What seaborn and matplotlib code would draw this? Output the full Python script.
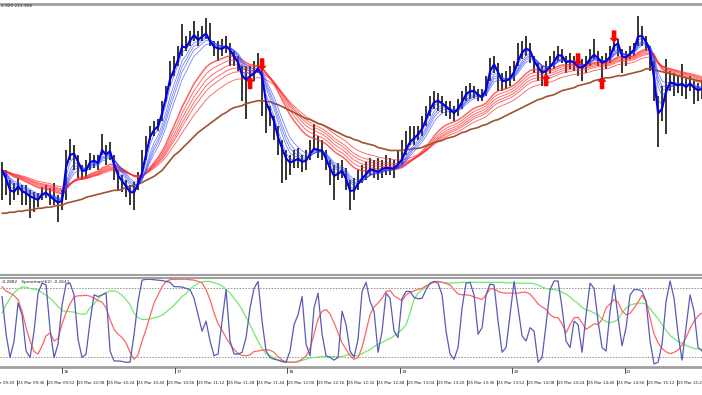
import numpy as np
import pandas as pd
import matplotlib
matplotlib.use("Agg")
import matplotlib.pyplot as plt
import seaborn as sns

# price bars, in points above an arbitrary base level (one value per plotted bar)
bar_close = [130, 120, 108, 108, 115, 108, 107, 103, 102, 100, 107, 108, 103, 100, 97, 100, 140, 148, 147, 137,
             128, 130, 140, 140, 137, 153, 145, 150, 133, 123, 118, 113, 107, 108, 118, 130, 150, 167, 172, 175,
             190, 207, 225, 233, 243, 257, 253, 262, 267, 260, 265, 268, 258, 253, 252, 252, 255, 250,
             243, 237, 223, 220, 225, 228, 233, 223, 193, 187, 177, 160, 150, 140, 137, 140, 142, 138, 140, 148,
             153, 150, 150, 140, 130, 123, 127, 130, 120, 107, 110, 118, 123, 127, 132, 130, 128, 132, 133, 132,
             132, 137, 142, 153, 160, 163, 167, 173, 183, 193, 200, 200, 197, 193, 190, 187, 193, 200, 208,
             210, 210, 205, 203, 213, 233, 238, 227, 218, 220, 223, 230, 242, 250, 253, 250, 238, 232, 227, 230,
             235, 240, 247, 245, 237, 240, 238, 233, 233, 237, 243, 247, 242, 237, 240, 245, 257, 258, 242, 243,
             248, 252, 267, 265, 258, 247, 217, 180, 193, 213, 220, 217, 215, 217, 213, 218, 212, 210, 212]
bar_high = [138, 130, 120, 117, 122, 115, 115, 110, 108, 107, 113, 115, 112, 117, 105, 110, 150, 162, 155, 145,
            135, 140, 147, 145, 145, 167, 155, 158, 145, 130, 125, 120, 115, 118, 128, 150, 165, 175, 180, 182,
            200, 215, 240, 245, 255, 277, 265, 270, 280, 270, 275, 283, 278, 260, 260, 262, 265, 258,
            250, 245, 235, 235, 235, 240, 248, 240, 200, 195, 185, 175, 160, 150, 145, 150, 152, 145, 150, 160,
            177, 165, 160, 150, 140, 135, 137, 140, 132, 120, 122, 130, 135, 138, 142, 140, 142, 140, 145, 142,
            140, 150, 160, 170, 175, 175, 175, 185, 195, 205, 210, 208, 205, 200, 200, 195, 202, 210, 215,
            218, 215, 212, 212, 225, 243, 245, 238, 228, 230, 235, 240, 258, 260, 265, 258, 245, 238, 235, 240,
            245, 250, 255, 252, 245, 248, 245, 242, 242, 245, 252, 262, 250, 245, 248, 255, 267, 262, 252, 250,
            255, 258, 285, 275, 265, 255, 240, 205, 215, 242, 230, 228, 225, 237, 222, 225, 220, 218, 220]
bar_low = [100, 105, 95, 100, 105, 95, 95, 82, 88, 93, 100, 102, 95, 95, 78, 90, 100, 140, 130, 122,
           120, 122, 130, 132, 130, 145, 135, 140, 120, 110, 108, 103, 95, 90, 110, 122, 140, 160, 165, 170,
           180, 200, 215, 225, 235, 245, 250, 255, 260, 255, 260, 262, 255, 245, 240, 245, 248, 235,
           235, 230, 200, 182, 215, 220, 228, 185, 168, 175, 160, 145, 117, 120, 125, 132, 132, 128, 130, 140,
           150, 142, 140, 130, 115, 100, 120, 122, 110, 90, 100, 110, 117, 120, 125, 122, 120, 122, 125, 125,
           122, 132, 135, 145, 155, 155, 160, 165, 175, 185, 192, 190, 188, 185, 182, 180, 185, 192, 200,
           202, 203, 200, 200, 205, 220, 228, 210, 210, 212, 215, 220, 235, 242, 245, 238, 228, 220, 215, 222,
           228, 232, 240, 238, 228, 232, 230, 225, 220, 228, 235, 242, 235, 218, 232, 238, 250, 245, 228, 235,
           242, 245, 255, 255, 250, 230, 200, 153, 180, 167, 210, 205, 208, 205, 202, 210, 197, 200, 202]
# slow (brown) moving average
slow_ma = [87, 87, 88, 88, 89, 89, 90, 90, 91, 92, 92, 93, 93, 94, 95, 95, 97, 98, 99, 100,
           101, 103, 104, 105, 106, 107, 108, 109, 110, 110, 111, 113, 114, 115, 116, 118, 120, 122, 124, 127,
           130, 135, 140, 145, 148, 152, 156, 160, 164, 168, 171, 174, 177, 180, 183, 186, 188, 191, 193, 194,
           195, 197, 198, 199, 200, 200, 199, 199, 197, 196, 194, 192, 190, 188, 186, 184, 182, 181, 179, 177,
           176, 174, 172, 170, 168, 166, 164, 163, 161, 160, 158, 157, 156, 155, 153, 152, 151, 150, 150, 150,
           150, 151, 151, 152, 152, 153, 155, 156, 158, 159, 160, 162, 163, 164, 166, 168, 169, 171, 172, 173,
           175, 176, 178, 180, 181, 183, 185, 187, 189, 191, 193, 195, 197, 199, 201, 202, 204, 205, 206, 208,
           210, 211, 212, 213, 215, 216, 217, 218, 220, 221, 222, 223, 223, 224, 225, 225, 226, 227, 228, 229,
           230, 232, 232, 231, 230, 229, 228, 227, 226, 225, 224, 223, 222, 221, 220, 220]

# oscillator window
spearman_fast = [0.60, -0.27, -0.81, -0.43, 0.45, 0.18, -0.66, -0.81, -0.20, 0.68,
                 0.91, 0.87, -0.16, -0.81, -0.50, 0.41, 0.89, 0.91, 0.64, -0.39,
                 -0.81, -0.73, 0.03, 0.64, 0.60, 0.64, 0.68, -0.66, -0.89, -0.89,
                 -0.90, -0.92, -0.92, -0.27, 0.49, 0.98, 1.00, 1.00, 0.99, 0.98,
                 0.97, 0.95, 0.93, 0.83, 0.83, 0.82, 0.79, 0.76, 0.56, 0.18,
                 -0.20, 0.03, -0.43, -0.77, -0.73, 0.03, 0.76, -0.43, -0.73, -0.73,
                 -0.69, -0.35, 0.34, 0.79, 0.95, 0.03, -0.66, -0.81, -0.85, -0.87,
                 -0.90, -0.92, -0.66, -0.05, 0.18, 0.60, -0.50, -0.77, 0.34, 0.68,
                 -0.27, -0.77, -0.81, -0.87, -0.81, 0.26, -0.05, -0.66,
                 -0.80, -0.39, 0.72, 0.93, 0.49, 0.26, -0.69, -0.20, 0.68, 0.56,
                 -0.20, -0.35, 0.56, 0.72, 0.72, 0.58, 0.55, 0.56, 0.76, 0.91,
                 0.95, 0.91, 0.64, -0.20, -0.73, -0.85, -0.58, 0.34, 0.91, 0.93,
                 0.64, -0.27, -0.12, 0.64, 0.89, 0.87, 0.03, -0.69, -0.58, 0.18,
                 0.95, 0.34, -0.31, -0.43, -0.12, -0.20, -0.92, -0.81, -0.05, 0.76,
                 0.96, 0.96, 0.34, -0.43, -0.58, 0.03, -0.05, -0.69, 0.18, 0.91,
                 0.79, 0.03, -0.58, -0.66, 0.26, 0.87, 0.11, -0.54, -0.12, 0.64,
                 0.76, 0.76, 0.72, 0.49, -0.43, -0.96, -0.92, -0.50, 0.49, 0.96,
                 0.56, -0.27, -0.87, -0.12, 0.64, 0.26, -0.58, -0.66]
spearman_mid = [0.83, 0.73, 0.68, 0.62, 0.53, 0.26, -0.12, -0.43, -0.67, -0.73,
                -0.54, -0.31, -0.24, -0.43, -0.37, -0.03, 0.22, 0.43, 0.59, 0.62,
                0.62, 0.63, 0.61, 0.56, 0.51, 0.47, 0.34, 0.07, -0.16, -0.27,
                -0.35, -0.47, -0.69, -0.85, -0.75, -0.43, -0.16, 0.15, 0.45, 0.64,
                0.83, 0.95, 0.99, 1.00, 1.00, 1.00, 1.00, 0.99, 0.98, 0.95,
                0.92, 0.76, 0.53, 0.22, -0.03, -0.18, -0.35, -0.50, -0.62, -0.72,
                -0.76, -0.77, -0.75, -0.67, -0.66, -0.64, -0.63, -0.64, -0.69, -0.79,
                -0.87, -0.91, -0.92, -0.92, -0.91, -0.85, -0.78, -0.60, -0.27, 0.08,
                0.26, 0.30, 0.20, -0.01, -0.24, -0.47, -0.62, -0.77,
                -0.85, -0.81, -0.58, -0.20, 0.18, 0.36, 0.45, 0.56, 0.72, 0.74,
                0.62, 0.56, 0.50, 0.64, 0.70, 0.73, 0.77, 0.79, 0.85, 0.89,
                0.94, 0.95, 0.93, 0.90, 0.87, 0.76, 0.66, 0.64, 0.64, 0.63,
                0.59, 0.56, 0.53, 0.64, 0.78, 0.78, 0.72, 0.69, 0.68, 0.68,
                0.68, 0.68, 0.70, 0.70, 0.66, 0.55, 0.43, 0.36, 0.30, 0.18,
                0.12, 0.11, -0.03, -0.24, -0.05, 0.11, 0.12, -0.01, -0.16, -0.10,
                -0.03, -0.05, 0.07, 0.34, 0.43, 0.53, 0.47, 0.27, 0.18, 0.21,
                0.34, 0.47, 0.63, 0.49, 0.11, -0.27, -0.47, -0.60, -0.68, -0.72,
                -0.69, -0.64, -0.52, -0.35, -0.14, 0.03, 0.15, 0.22]
spearman_slow = [0.22, 0.41, 0.56, 0.69, 0.77, 0.82, 0.82, 0.79, 0.77, 0.75,
                 0.69, 0.63, 0.56, 0.47, 0.37, 0.27, 0.26, 0.25, 0.24, 0.21,
                 0.19, 0.20, 0.34, 0.43, 0.55, 0.64, 0.69, 0.73, 0.73, 0.70,
                 0.63, 0.53, 0.41, 0.22, 0.11, 0.07, 0.07, 0.08, 0.11, 0.13,
                 0.17, 0.24, 0.32, 0.40, 0.50, 0.60, 0.67, 0.78, 0.84, 0.91,
                 0.94, 0.95, 0.95, 0.92, 0.89, 0.85, 0.77, 0.68, 0.56, 0.44,
                 0.30, 0.12, -0.05, -0.25, -0.43, -0.60, -0.72, -0.77, -0.82, -0.87,
                 -0.91, -0.92, -0.92, -0.92, -0.89, -0.88, -0.85, -0.82, -0.81, -0.80,
                 -0.79, -0.79, -0.79, -0.79, -0.79, -0.79, -0.76, -0.73,
                 -0.77, -0.77, -0.72, -0.67, -0.63, -0.56, -0.50, -0.46, -0.41, -0.37,
                 -0.31, -0.24, -0.16, -0.05, 0.22, 0.54, 0.68, 0.76, 0.83, 0.89,
                 0.95, 0.95, 0.93, 0.92, 0.91, 0.92, 0.92, 0.93, 0.93, 0.93,
                 0.93, 0.93, 0.93, 0.93, 0.93, 0.93, 0.93, 0.93, 0.92, 0.92,
                 0.91, 0.91, 0.91, 0.91, 0.91, 0.90, 0.87, 0.82, 0.79, 0.77,
                 0.76, 0.74, 0.70, 0.66, 0.59, 0.51, 0.44, 0.35, 0.29, 0.27,
                 0.22, 0.18, 0.08, 0.02, -0.01, 0.02, 0.07, 0.22, 0.34, 0.40,
                 0.43, 0.45, 0.45, 0.43, 0.32, 0.20, 0.09, -0.05, -0.18, -0.30,
                 -0.37, -0.44, -0.48, -0.53, -0.57, -0.60, -0.61, -0.62]

# arrow signals: bar number, price at the arrow tip, 1 = buy (up), -1 = sell (down)
signal_bar = [62, 65, 136, 144, 150, 153]
signal_price = [224, 230, 227, 235, 224, 258]
signal_dir = [1, -1, 1, -1, 1, -1]

short_periods = [3, 5, 8, 10, 12, 15]
long_periods = [30, 35, 40, 45, 50, 60]

date_labels = ["09:20", "09:36", "09:52", "10:08", "10:24", "10:40", "10:56", "11:12",
               "11:28", "11:44", "12:00", "12:16", "12:32", "12:48", "13:04", "13:20",
               "13:36", "13:52", "14:08", "14:24", "14:40", "14:56", "15:12", "15:28"]
hour_times = ["10:00", "11:00", "12:00", "13:00", "14:00", "15:00"]
hour_labels = ["16", "17", "18", "19", "20", "21"]


def minutes(s):
    h, m = s.split(":")
    return int(h) * 60 + int(m)


# each plotted bar stands for 64/30 one-minute bars; first bar at 09:28
step = 64 / 30
bar_time = minutes("09:28") + np.arange(len(bar_close)) * step
x_range = (566.9, 941.3)

sns.set_style("white")
plt.rcParams["font.family"] = ["DejaVu Sans"]

fig = plt.figure(figsize=(7.02, 3.95), dpi=100)
H = 395.0
ax = fig.add_axes([0, 1 - 275 / H, 1, 271 / H])
ax2 = fig.add_axes([0, 1 - 367 / H, 1, 89 / H], sharex=ax)
axt = fig.add_axes([0, 0, 1, 27 / H], sharex=ax)

grey = "#a0a0a0"
txt = "#202020"

# --- main chart ---
ax.vlines(bar_time, bar_low, bar_high, color="#1c1c1c", lw=1.25, zorder=2)

close = pd.Series(bar_close, dtype=float)
for p in long_periods[::-1]:
    ema = close.ewm(span=max(p / step, 1.0), adjust=False).mean()
    lw = 1.1 if p == long_periods[0] else 0.65
    sns.lineplot(x=bar_time, y=ema.values, ax=ax, color="#ff3030", lw=lw, alpha=0.75, zorder=3)
for p in short_periods[::-1]:
    ema = close.ewm(span=max(p / step, 1.0), adjust=False).mean()
    if p == short_periods[0]:
        sns.lineplot(x=bar_time, y=ema.values, ax=ax, color="#0000e0", lw=1.5, zorder=5)
    else:
        sns.lineplot(x=bar_time, y=ema.values, ax=ax, color="#3040ff", lw=0.55, alpha=0.7, zorder=4)
sns.lineplot(x=bar_time, y=slow_ma, ax=ax, color="#a0522d", lw=1.2, zorder=3)

for b, pr, d in zip(signal_bar, signal_price, signal_dir):
    ax.annotate("", xy=(bar_time[b], pr), xytext=(0, -9 * d), textcoords="offset points",
                arrowprops=dict(arrowstyle="simple,head_length=0.6,head_width=1.1,tail_width=0.55",
                                color="red", lw=0, shrinkA=0, shrinkB=0, mutation_scale=6),
                zorder=6)

ax.set_ylim(25, 297)
ax.set_xlim(*x_range)

# --- oscillator window ---
sns.lineplot(x=bar_time, y=spearman_slow, ax=ax2, color="#70ea70", lw=0.9)
sns.lineplot(x=bar_time, y=spearman_mid, ax=ax2, color="#ff6464", lw=0.9)
sns.lineplot(x=bar_time, y=spearman_fast, ax=ax2, color="#5a5ab4", lw=0.9)
for lvl in (0.8, -0.8):
    ax2.axhline(lvl, color="#909090", lw=0.7, ls=(0, (1.5, 1.5)), zorder=0)
ax2.set_ylim(-1.03, 1.03)

for a in (ax, ax2):
    a.set_xticks([])
    a.set_yticks([])
    a.set_xlabel("")
    a.set_ylabel("")
    for s in ("left", "right"):
        a.spines[s].set_visible(False)
    for s in ("top", "bottom"):
        a.spines[s].set_color(grey)
ax.spines["top"].set_linewidth(2.0)
ax.spines["bottom"].set_linewidth(1.5)
ax2.spines["top"].set_linewidth(1.5)
ax2.spines["bottom"].set_linewidth(2.0)

# --- time scale ---
axt.set_ylim(0, 1)
axt.axis("off")
for s in date_labels:
    m = minutes(s)
    axt.plot([m, m], [0.38, 0.55], color="#303030", lw=0.6, clip_on=False)
    axt.text(m + 0.6, 0.44, "25 Mar " + s, fontsize=2.9, va="center", ha="left", color=txt)
for t, lab in zip(hour_times, hour_labels):
    m = minutes(t)
    axt.plot([m, m], [0.8, 1.0], color="#303030", lw=0.6, clip_on=False)
    axt.text(m + 0.8, 0.84, lab, fontsize=3.1, va="center", ha="left", color=txt)

fig.text(1 / 702, 1 - 6 / H, "2.920 212.926", fontsize=3.1, va="center", ha="left", color=txt)
fig.text(1 / 702, 1 - 282 / H, "-0.2882   Spearman(62) -0.2641", fontsize=3.1, va="center",
         ha="left", color=txt)

fig.savefig("out.png", dpi=100)
